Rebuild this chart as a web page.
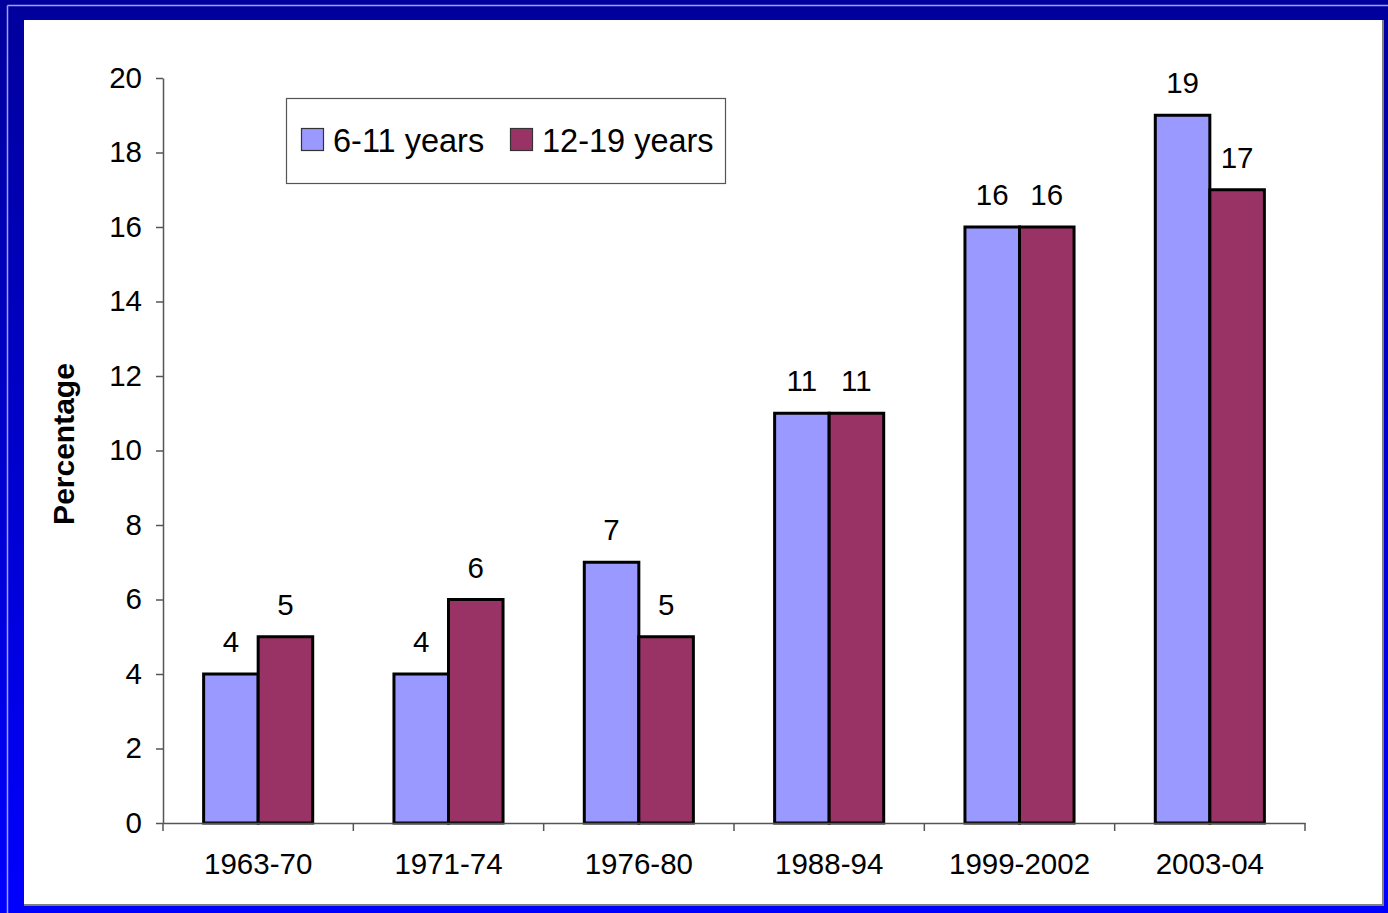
<!DOCTYPE html>
<html>
<head>
<meta charset="utf-8">
<script src="https://cdn.jsdelivr.net/npm/d3@7"></script>
<style>
  html, body { margin: 0; padding: 0; background: #0000c0; }
  svg { display: block; }
</style>
</head>
<body>
<div id="chart"></div>
<script>
'use strict'

var periods = ['1963-70', '1971-74', '1976-80', '1988-94', '1999-2002', '2003-04']
var seriesNames = ['6-11 years', '12-19 years']
var children = [4, 4, 7, 11, 16, 19]
var adolescents = [5, 6, 5, 11, 16, 17]
var yTicks = [0, 2, 4, 6, 8, 10, 12, 14, 16, 18, 20]
var colors = ['#9999ff', '#993366']

var W = 1388
var H = 913
var margin = { top: 78, right: 83, bottom: 90, left: 163 }
var width = 1305 - margin.left
var height = 823 - margin.top
var font = 'Liberation Sans, Arial, sans-serif'

var rows = periods.map(function(p, i) {
  return { period: p, values: [children[i], adolescents[i]] }
})

var svg = d3
  .select('#chart')
  .append('svg')
  .attr('width', W)
  .attr('height', H)

var defs = svg.append('defs')
var grad = defs
  .append('linearGradient')
  .attr('id', 'bg')
  .attr('x1', 0)
  .attr('y1', 0)
  .attr('x2', 0)
  .attr('y2', 1)
grad.append('stop').attr('offset', '0%').attr('stop-color', '#00009c')
grad.append('stop').attr('offset', '100%').attr('stop-color', '#0000ff')

svg
  .append('rect')
  .attr('width', W)
  .attr('height', H)
  .attr('fill', 'url(#bg)')

// thin light frame lines
svg
  .append('line')
  .attr('x1', 7.5)
  .attr('y1', 5.5)
  .attr('x2', 7.5)
  .attr('y2', H)
  .attr('stroke', '#9f9fff')
  .attr('stroke-width', 1.5)
svg
  .append('line')
  .attr('x1', 7.5)
  .attr('y1', 5.5)
  .attr('x2', W)
  .attr('y2', 5.5)
  .attr('stroke', '#9f9fff')
  .attr('stroke-width', 1.5)

// white panel with shadow
svg
  .append('rect')
  .attr('x', 24)
  .attr('y', 20)
  .attr('width', 1360)
  .attr('height', 886)
  .attr('fill', '#808080')
svg
  .append('rect')
  .attr('x', 24)
  .attr('y', 20)
  .attr('width', 1358)
  .attr('height', 884)
  .attr('fill', '#ffffff')

var g = svg
  .append('g')
  .attr('transform', 'translate(' + margin.left + ',' + margin.top + ')')

var x0 = d3
  .scaleBand()
  .domain(periods)
  .range([0, width])
  .paddingInner(0)
  .paddingOuter(0)

var x1 = d3
  .scaleBand()
  .domain([0, 1])
  .range([0, x0.bandwidth()])
  .paddingInner(0)
  .paddingOuter(0.745)

var y = d3
  .scaleLinear()
  .domain([0, 20])
  .range([height, 0])

// bars
var group = g
  .selectAll('.grp')
  .data(rows)
  .enter()
  .append('g')
  .attr('class', 'grp')
  .attr('transform', function(d) {
    return 'translate(' + x0(d.period) + ',0)'
  })

group
  .selectAll('rect')
  .data(function(d) {
    return d.values
  })
  .enter()
  .append('rect')
  .attr('x', function(d, i) {
    return x1(i)
  })
  .attr('y', function(d) {
    return y(d)
  })
  .attr('width', x1.bandwidth())
  .attr('height', function(d) {
    return height - y(d)
  })
  .attr('fill', function(d, i) {
    return colors[i]
  })
  .attr('stroke', '#000')
  .attr('stroke-width', 3)

group
  .selectAll('text')
  .data(function(d) {
    return d.values
  })
  .enter()
  .append('text')
  .attr('x', function(d, i) {
    return x1(i) + x1.bandwidth() / 2
  })
  .attr('y', function(d) {
    return y(d) - 22
  })
  .attr('text-anchor', 'middle')
  .attr('font-family', font)
  .attr('font-size', '29.5px')
  .attr('fill', '#000')
  .text(function(d) {
    return d
  })

// axes
var yAxis = d3
  .axisLeft(y)
  .tickValues(yTicks)
  .tickSize(7)
  .tickPadding(14)
  .tickSizeOuter(0)

var yg = g.append('g').call(yAxis)
yg.selectAll('text')
  .attr('font-family', font)
  .attr('font-size', '29.5px')
  .attr('fill', '#000')
yg.selectAll('line, path').attr('stroke', '#555').attr('stroke-width', 1.5)

var xAxis = d3
  .axisBottom(x0)
  .tickSize(0)
  .tickPadding(30)
  .tickSizeOuter(0)

var xg = g
  .append('g')
  .attr('transform', 'translate(0,' + height + ')')
  .call(xAxis)
xg.selectAll('text')
  .attr('font-family', font)
  .attr('font-size', '29.5px')
  .attr('fill', '#000')
xg.select('.domain').attr('stroke', '#555').attr('stroke-width', 1.5)

// category separators on the x axis
var bounds = periods.map(function(p) {
  return x0(p)
})
bounds.push(width)
xg.selectAll('.sep')
  .data(bounds)
  .enter()
  .append('line')
  .attr('class', 'sep')
  .attr('x1', function(d) {
    return d
  })
  .attr('x2', function(d) {
    return d
  })
  .attr('y1', 0)
  .attr('y2', 8)
  .attr('stroke', '#555')
  .attr('stroke-width', 1.5)

// y title
svg
  .append('text')
  .attr('transform', 'translate(74,444) rotate(-90)')
  .attr('text-anchor', 'middle')
  .attr('font-family', font)
  .attr('font-size', '30px')
  .attr('font-weight', 'bold')
  .attr('fill', '#000')
  .text('Percentage')

// legend
var legend = svg.append('g').attr('transform', 'translate(286,98)')
legend
  .append('rect')
  .attr('x', 0.5)
  .attr('y', 0.5)
  .attr('width', 439)
  .attr('height', 85)
  .attr('fill', '#fff')
  .attr('stroke', '#555')
  .attr('stroke-width', 1.2)

var legendX = [15, 224]
var item = legend
  .selectAll('.item')
  .data(seriesNames)
  .enter()
  .append('g')
  .attr('class', 'item')
  .attr('transform', function(d, i) {
    return 'translate(' + legendX[i] + ',0)'
  })
item
  .append('rect')
  .attr('x', 0.5)
  .attr('y', 30.5)
  .attr('width', 22)
  .attr('height', 22)
  .attr('fill', function(d, i) {
    return colors[i]
  })
  .attr('stroke', '#333')
  .attr('stroke-width', 1.2)
item
  .append('text')
  .attr('x', 32)
  .attr('y', 54)
  .attr('font-family', font)
  .attr('font-size', '32.5px')
  .attr('fill', '#000')
  .text(function(d) {
    return d
  })
</script>
</body>
</html>
